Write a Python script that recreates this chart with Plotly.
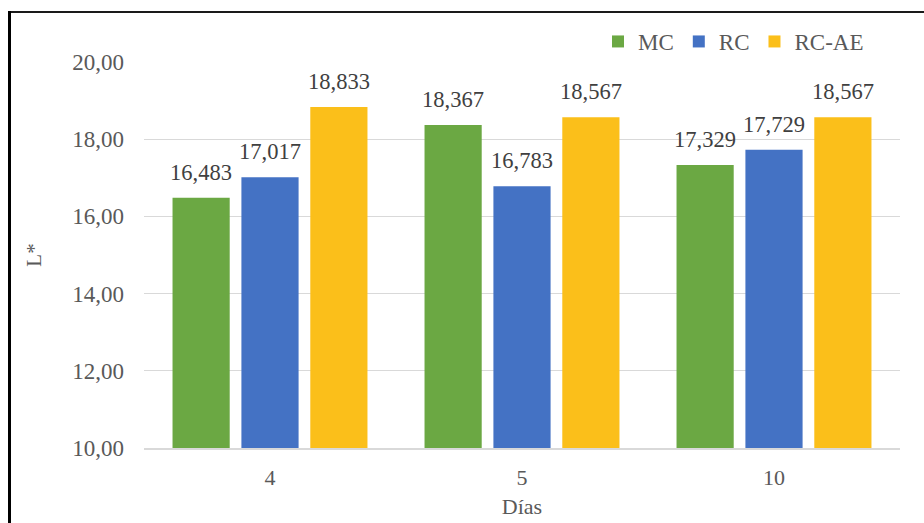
import plotly.graph_objects as go

# Días de almacenamiento y valores de L* por tratamiento
dias = ["4", "5", "10"]
mc = [16.483, 18.367, 17.329]
rc = [17.017, 16.783, 17.729]
rc_ae = [18.833, 18.567, 18.567]

series = [
    ("MC", mc, "#6BA843"),
    ("RC", rc, "#4472C4"),
    ("RC-AE", rc_ae, "#FBBF1A"),
]

W, H = 924, 523
L, R, T, B = 144, 24, 62, 75
BARGAP, GROUPGAP = 0.18, 0.17

fig = go.Figure()
for name, vals, color in series:
    fig.add_trace(go.Bar(
        x=dias, y=vals, name=name,
        marker=dict(color=color, line=dict(width=0)),
        hoverinfo="x+y+name",
    ))

# Value labels above each bar, shifted to the bar's slot within its group
cat_px = (W - L - R) / len(dias)
slot_px = cat_px * (1 - BARGAP) / len(series)
annotations = []
for k, (name, vals, color) in enumerate(series):
    shift = (k - (len(series) - 1) / 2) * slot_px
    for i, v in enumerate(vals):
        annotations.append(dict(
            x=i, y=v, xref="x", yref="y",
            text=f"{v:.3f}".replace(".", ","),
            showarrow=False, xshift=shift, yshift=11, yanchor="bottom",
            font=dict(family="Liberation Serif", size=22.5, color="#404040"),
        ))

def px_x(p):
    return (p - L) / (W - L - R)

def px_y(p):
    return (H - B - p) / (H - T - B)

fig.update_layout(
    width=W, height=H,
    margin=dict(l=L, r=R, t=T, b=B, autoexpand=False),
    paper_bgcolor="white", plot_bgcolor="white",
    separators=",.",
    barmode="group", bargap=BARGAP, bargroupgap=GROUPGAP,
    font=dict(family="Liberation Serif", color="#595959"),
    legend=dict(
        orientation="h", x=px_x(598), y=px_y(20), xanchor="left", yanchor="top",
        font=dict(family="Liberation Serif", size=23, color="#595959"),
        itemwidth=30, tracegroupgap=0, bgcolor="rgba(0,0,0,0)",
    ),
    xaxis=dict(
        type="category", categoryorder="array", categoryarray=dias,
        range=[-0.5, len(dias) - 0.5],
        automargin=False,
        showline=True, linecolor="#D9D9D9", linewidth=2,
        tickfont=dict(family="Liberation Serif", size=22, color="#595959"),
        ticks="", ticklabelstandoff=9,
        title=dict(text="Días", font=dict(family="Liberation Serif", size=22, color="#595959"), standoff=9),
    ),
    yaxis=dict(
        automargin=False,
        range=[10, 20], dtick=2, tickformat=".2f",
        showgrid=True, gridcolor="#D9D9D9", gridwidth=1,
        zeroline=False, showline=False, ticks="",
        tickfont=dict(family="Liberation Serif", size=23, color="#595959"),
        ticklabelstandoff=19,
        title=dict(text="L*", font=dict(family="Liberation Serif", size=21, color="#595959"), standoff=24),
    ),
    annotations=annotations,
    shapes=[
        dict(type="line", xref="paper", yref="paper",
             x0=px_x(9.5), x1=px_x(W + 5), y0=px_y(12), y1=px_y(12),
             line=dict(color="#1a1a1a", width=2)),
        dict(type="line", xref="paper", yref="paper",
             x0=px_x(9.5), x1=px_x(9.5), y0=px_y(11), y1=px_y(H + 5),
             line=dict(color="black", width=3)),
    ],
)

fig.write_html("out.html")
